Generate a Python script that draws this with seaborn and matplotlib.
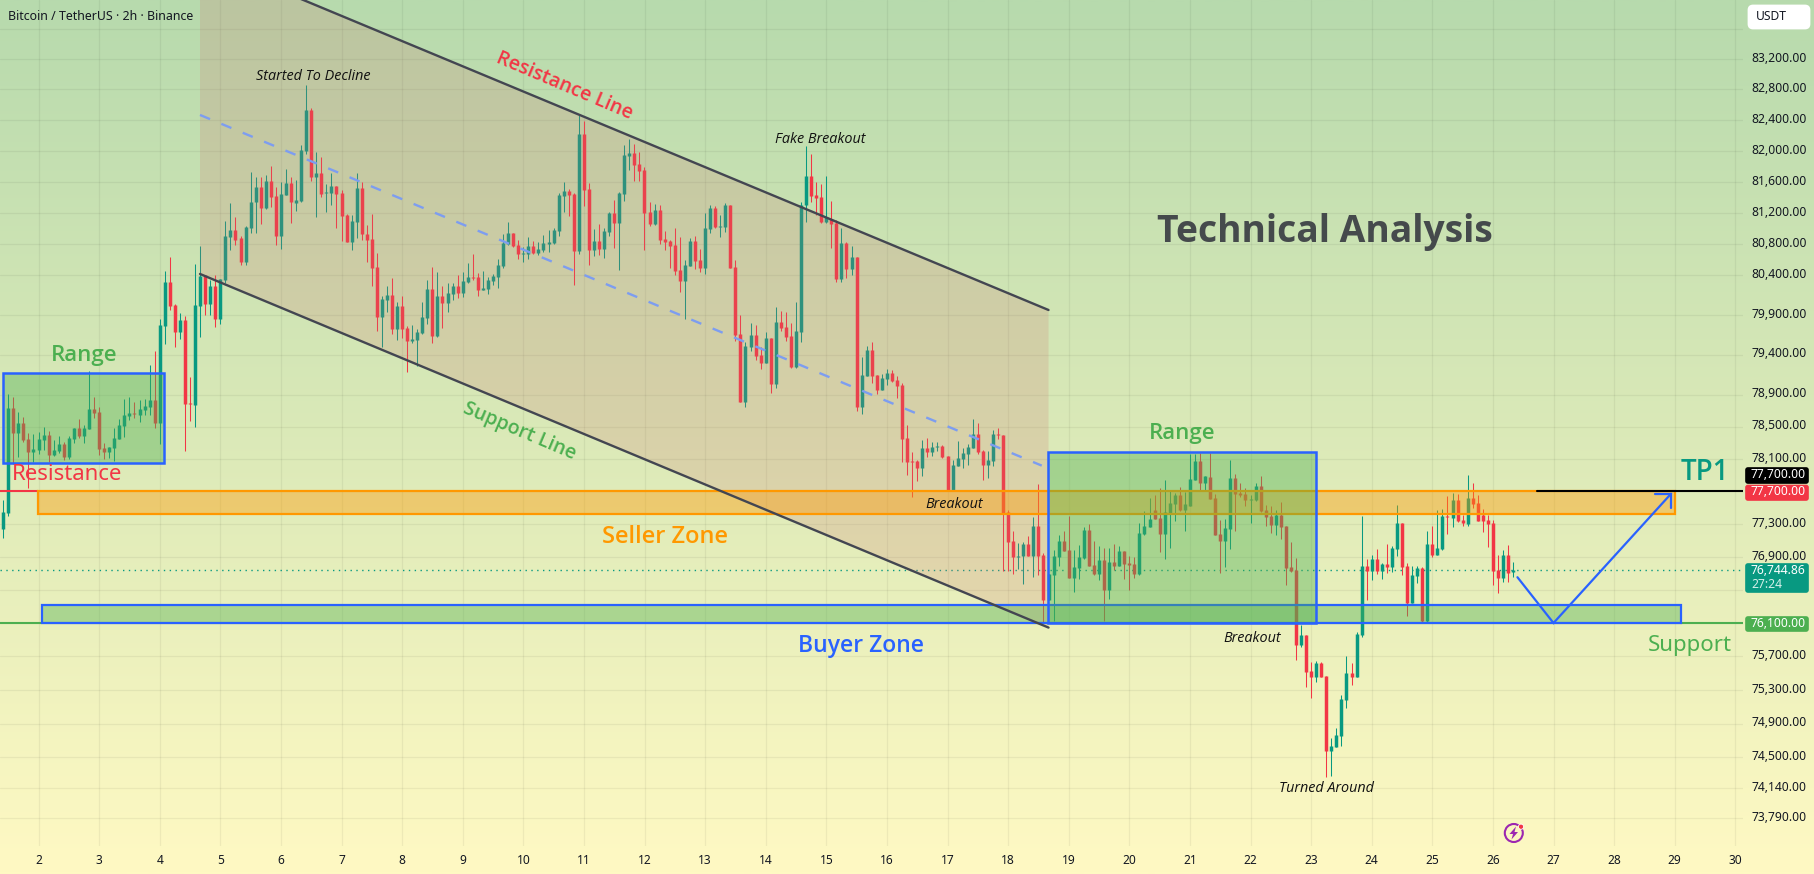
import numpy as np
import pandas as pd
import matplotlib
matplotlib.use("Agg")
import matplotlib.pyplot as plt
import matplotlib.transforms as mtransforms
import seaborn as sns
from matplotlib.patches import Circle, FancyBboxPatch, Polygon, Rectangle

# BTC/USDT 2h candles, oldest first
opens = [
    77245,77433,78732,78425,78545,78347,78186,78211,78335,78397,
    78150,78199,78285,78125,78347,78484,78384,78471,78720,78682,
    78236,78186,78236,78347,78508,78633,78670,78645,78707,78745,
    78832,78545,79760,80316,80025,79685,79836,78795,78770,80012,
    80405,80038,80266,79849,80342,80890,80980,80878,80571,81006,
    81339,81532,81262,81609,81416,80903,81429,81583,81326,81356,
    82002,82532,81662,81714,81456,81456,81547,81456,81173,80826,
    81083,81521,80929,80865,80508,79874,80088,80151,79723,80012,
    79735,79571,79584,79672,79861,80228,79634,80139,80050,80164,
    80266,80177,80317,80381,80381,80215,80228,80330,80381,80521,
    80801,80942,80788,80673,80673,80775,80686,80724,80801,80814,
    80968,81417,81482,81443,80711,82220,81508,80724,80839,80737,
    80955,81199,81070,81443,81933,81972,81830,81753,81211,81058,
    81237,80865,80839,80788,80470,80330,80521,80839,80597,80495,
    80994,81263,81019,81019,81301,80508,79660,78807,79496,79647,
    79395,79295,79609,79032,79811,79748,79634,79245,79685,81301,
    81675,81430,81404,81083,81122,81070,80355,80814,80482,80635,
    78745,79133,79458,79145,78957,79095,79170,79082,79020,78360,
    78076,78076,77990,78236,78187,78249,78261,78137,77706,78014,
    78100,78162,78236,78410,78199,78026,78076,78410,78398,77448,
    77094,76899,76911,77058,76911,77277,76923,76378,76681,76899,
    77094,76984,76644,76766,76887,77228,76802,76693,76863,76499,
    76839,76790,76972,76827,76815,76693,77179,77265,77473,77375,
    77179,77436,77546,77656,77473,77522,77841,78076,77804,77878,
    77620,77179,77094,77240,77866,77681,77669,77595,77595,77767,
    77473,77399,77289,77411,77277,76778,76742,75836,75956,75525,
    75454,75621,75466,74576,74623,74753,75180,75502,75454,75956,
    76790,76730,76875,76730,76815,76778,76996,77314,76790,76342,
    76669,76766,76125,77057,76923,76996,77399,77375,77595,77350,
    77301,77620,77558,77411,77350,77314,76742,76644,76923,76718,
]
highs = [
    77595,78907,78870,78682,78620,78421,78409,78434,78496,78446,
    78335,78384,78310,78384,78484,78595,78521,79195,78870,78745,
    78297,78248,78484,78595,78845,78870,78807,78832,78845,79270,
    79445,79849,80456,80635,80038,79924,79886,79120,80546,80775,
    80405,80342,80405,80354,81096,81326,81147,80903,81032,81727,
    81662,81662,81687,81803,81532,81596,81764,81662,81622,82076,
    82857,82558,81985,81920,81572,81714,81547,81495,81186,81173,
    81714,81598,81045,81186,80686,80139,80266,80368,80063,80139,
    79760,79773,79723,80063,80343,80508,80445,80266,80304,80304,
    80406,80445,80559,80673,80432,80457,80381,80419,80610,80929,
    81083,80942,80852,80762,80890,80839,80826,80916,80981,81006,
    81456,81598,81508,81456,82467,82389,81585,80994,81058,81006,
    81211,81365,81469,82076,82155,82089,81985,81791,81339,81314,
    81301,80968,80852,81006,80890,80597,80878,80903,80737,81199,
    81301,81288,81173,81326,81301,80597,79899,79559,79798,79773,
    79496,79685,79609,80000,79950,79937,79798,80063,81339,82063,
    81960,81598,81572,81675,81352,81109,81006,80826,80775,80635,
    79370,79508,79559,79145,79158,79220,79208,79133,79045,78522,
    78187,78088,78335,78360,78311,78311,78273,78137,78088,78323,
    78236,78286,78596,78547,78211,78199,78460,78485,78398,77473,
    77216,77070,77082,77155,77387,77792,76948,76693,76984,77167,
    77216,77399,76984,77045,77265,77301,77094,77033,77009,77009,
    77057,77033,76972,76911,76899,77314,77461,77620,77656,77743,
    77841,77706,77681,77755,77693,78162,78162,78174,77891,78174,
    77669,77350,77362,78088,77916,77804,77743,77656,77804,77891,
    77534,77522,77473,77570,77277,77082,76887,76077,75956,75633,
    75645,75633,75466,74730,74848,75240,75705,75621,75992,77399,
    76875,76923,76996,76827,77057,77033,77534,77314,76827,76790,
    76790,76778,77216,77277,77473,77485,77644,77681,77669,77411,
    77903,77804,77656,77485,77411,77350,76923,76984,77045,76839,
]
lows = [
    77135,77400,78040,78129,78314,77748,78068,78162,78211,78068,
    78137,78170,78088,78100,78297,78359,78297,78471,78608,78150,
    78100,78112,78076,78347,78372,78583,78608,78558,78645,78645,
    78484,78285,79533,79962,79496,79596,78199,78570,78496,79622,
    79899,79899,79748,79786,80304,80724,80788,80533,80533,80942,
    80942,81057,81250,81275,80788,80737,81429,81070,81224,81343,
    81960,81611,81147,81404,81211,81301,81006,80839,80826,80724,
    80878,80852,80571,80266,79697,79496,79937,79660,79584,79609,
    79183,79546,79258,79660,79786,79546,79622,79735,79937,80088,
    80114,80126,80304,80343,80139,80215,80164,80279,80241,80495,
    80788,80762,80610,80571,80610,80673,80660,80699,80699,80801,
    80903,81211,81160,80279,80673,81288,80533,80648,80660,80622,
    80903,80750,80470,81352,81753,81611,81611,80724,81032,81045,
    80801,80724,80495,80406,80190,79849,80521,80482,80445,80419,
    80942,81006,80890,80955,80495,79571,78807,78745,79445,79333,
    79220,79295,78920,78982,79697,79571,79233,79233,79559,81083,
    81339,81173,81070,81070,80750,80317,80317,80368,80406,78695,
    78658,79133,79045,78907,78957,79020,79057,78857,78063,77903,
    77632,77829,77891,78125,78137,78199,78113,77706,77706,78014,
    77990,78026,78236,78162,77841,77866,78014,78348,76730,76730,
    76694,76754,76572,76911,76657,76681,76113,76378,76125,76790,
    76972,76644,76475,76632,76875,76790,76681,76620,76125,76390,
    76742,76790,76632,76499,76644,76681,77167,77265,77362,76960,
    76875,77009,77338,77461,77216,77522,77841,77706,77706,77607,
    77167,76705,76778,76996,77216,77632,77522,77314,77583,77448,
    77277,77191,77167,77118,76560,76718,75657,75812,75335,75204,
    75394,75454,74270,74281,74623,74635,75085,75358,75454,75932,
    76378,76620,76693,76632,76705,76718,76911,76681,76185,76342,
    76584,76101,76113,76899,76923,76984,77179,77265,77326,77277,
    77277,77497,77338,77204,77021,76560,76463,76596,76596,76657,
]
closes = [
    77449,78732,78425,78545,78335,78186,78223,78347,78397,78150,
    78211,78285,78125,78359,78484,78384,78484,78720,78670,78223,
    78186,78248,78359,78521,78645,78670,78657,78720,78757,78832,
    78545,79773,80316,80012,79685,79836,78782,78786,80025,80392,
    80038,80266,79849,80354,80903,80980,80852,80571,81019,81339,
    81532,81262,81609,81403,80903,81442,81583,81339,81365,82011,
    82532,81667,81714,81443,81469,81547,81443,81160,80826,81096,
    81521,80929,80852,80495,79874,80100,80151,79723,80012,79723,
    79571,79596,79685,79874,80228,79634,80139,80050,80177,80266,
    80177,80330,80381,80368,80215,80241,80343,80394,80533,80814,
    80942,80775,80673,80686,80775,80686,80737,80814,80826,80981,
    81430,81482,81430,80711,82220,81495,80724,80839,80737,80968,
    81199,81070,81456,81946,81972,81817,81740,81199,81058,81237,
    80852,80826,80775,80457,80330,80533,80839,80584,80495,81006,
    81263,81019,81032,81301,80495,79647,78807,79508,79647,79383,
    79295,79609,79032,79811,79735,79622,79245,79697,81301,81675,
    81417,81391,81083,81147,81058,80355,80814,80482,80635,78745,
    79145,79458,79133,78957,79107,79170,79070,79007,78347,78063,
    78063,77990,78236,78187,78249,78261,78125,77706,78026,78113,
    78174,78249,78410,78187,78026,78088,78410,78398,77436,77082,
    76899,76911,77058,76911,77277,76911,76378,76693,76911,77094,
    76972,76644,76778,76899,77228,76790,76693,76863,76499,76839,
    76790,76972,76815,76802,76693,77191,77277,77362,77362,77179,
    77448,77558,77656,77473,77546,77854,78076,77804,77891,77607,
    77167,77094,77253,77866,77669,77656,77595,77607,77767,77461,
    77387,77289,77411,77265,76766,76730,75836,75956,75513,75454,
    75621,75454,74576,74635,74765,75192,75502,75454,75968,76790,
    76730,76875,76730,76815,76778,77009,77314,76778,76342,76681,
    76766,76125,77057,76923,77009,77399,77387,77595,77338,77314,
    77620,77546,77338,77338,77301,76730,76644,76923,76705,76744.86,
]

first_candle_day = 1 + 5 / 12      # the series opens at 10:00 on the 1st
candle_step_days = 1 / 12

day_ticks = list(range(2, 31))
price_ticks = [83200, 82800, 82400, 82000, 81600, 81200, 80800, 80400, 79900, 79400,
               78900, 78500, 78100, 77300, 76900, 75700, 75300, 74900, 74500, 74140, 73790]
unlabelled_grid_prices = [83600, 77700, 76500, 76100]

last_price = closes[-1]
target_price = 77700
support_price = 76100

# Chart drawings as (day, price) anchors
channel_start_day, channel_end_day = 4.665, 18.667
resistance_prices = [84553, 79962]
support_prices = [80419, 76045]
median_days = [4.665, 18.555]
median_prices = [82467, 78018]
range_boxes = [(1.406, 4.071, 78055, 79170), (18.653, 23.08, 76100, 78183)]
seller_zone = (1.987, 29.005, 77424, 77700)
buyer_zone = (2.053, 29.1, 76100, 76318)
path_days = [26.405, 27.0, 28.94]
path_prices = [76653, 76100, 77672]
arrow_days = [28.68, 28.94, 28.94]
arrow_prices = [77672, 77672, 77497]

UP, DOWN = "#089981", "#f23645"
BLUE, GREEN, ORANGE, DARK = "#2962ff", "#4caf50", "#ff9800", "#434651"
INK = "#131722"
W, H = 1815, 874

sns.set_theme(style="white")
plt.rcParams["font.family"] = ["Noto Sans", "DejaVu Sans"]

fig = plt.figure(figsize=(W / 100, H / 100), dpi=100)

# Vertical wash behind everything
bg = fig.add_axes([0, 0, 1, 1], zorder=0)
top_rgb, bottom_rgb = np.array([183, 218, 173]) / 255, np.array([255, 249, 195]) / 255
ramp = np.linspace(0, 1, 256)[:, None, None]
bg.imshow(top_rgb * (1 - ramp) + bottom_rgb * ramp, aspect="auto", interpolation="bilinear")
bg.axis("off")

ax = fig.add_axes([0, (H - 846) / H, 1743 / W, 846 / H], zorder=1)
ax.patch.set_alpha(0)
ax.set_yscale("log")

candles = pd.DataFrame({"open": opens, "high": highs, "low": lows, "close": closes})
candles["day"] = first_candle_day + candle_step_days * np.arange(len(candles))
candles["candle"] = np.arange(len(candles))
candles["side"] = np.where(candles["close"] >= candles["open"], "up", "down")
side_colors = {"up": UP, "down": DOWN}

wicks = candles.melt(id_vars=["candle", "day", "side"], value_vars=["high", "low"], value_name="price")
bodies = candles.melt(id_vars=["candle", "day", "side"], value_vars=["open", "close"], value_name="price")

for table, width, layer in ((wicks, 0.75, 3), (bodies, 2.5, 3.1)):
    sns.lineplot(data=table, x="day", y="price", units="candle", hue="side", palette=side_colors,
                 estimator=None, sort=False, legend=False, linewidth=width, ax=ax,
                 solid_capstyle="butt", zorder=layer)

# Descending channel: tinted body, rails and dashed median
ax.fill([channel_start_day, channel_end_day, channel_end_day, channel_start_day],
        [resistance_prices[0], resistance_prices[1], support_prices[1], support_prices[0]],
        color="#cd736e", alpha=0.2, lw=0, zorder=4)
sns.lineplot(x=[channel_start_day, channel_end_day], y=resistance_prices, color=DARK, linewidth=1.7,
             ax=ax, zorder=7, estimator=None, sort=False)
sns.lineplot(x=[channel_start_day, channel_end_day], y=support_prices, color=DARK, linewidth=1.7,
             ax=ax, zorder=7, estimator=None, sort=False)
ax.plot(median_days, median_prices, color="#7d9df0", lw=1.7, dashes=(4.6, 5.2), zorder=6)

# Horizontal levels
x_left, x_right = 2 - 38.5 / 60.6, 2 + 1704.5 / 60.6
ax.plot([x_left, seller_zone[0]], [target_price] * 2, color=DOWN, lw=1.5, zorder=5)
ax.plot([26.73, x_right], [target_price] * 2, color="black", lw=1.5, zorder=9)
ax.plot([x_left, x_right], [support_price] * 2, color=GREEN, lw=1.5, zorder=5)
ax.plot([x_left, x_right], [last_price] * 2, color=UP, lw=1, ls=(0, (1, 3.2)), zorder=2.5)


def zone(bounds, edge, face, layer, width=1.6):
    d0, d1, p0, p1 = bounds
    ax.add_patch(Rectangle((d0, p0), d1 - d0, p1 - p0, facecolor=matplotlib.colors.to_rgba(face, 0.4),
                           edgecolor=edge, lw=width, zorder=layer))


zone(seller_zone, ORANGE, ORANGE, 5.1)
zone(buyer_zone, BLUE, GREEN, 5.2)
for box in range_boxes:
    zone(box, BLUE, GREEN, 6, width=1.8)

# Projected path to the target
ax.plot(path_days, path_prices, color=BLUE, lw=1.6, zorder=10, solid_joinstyle="miter")
ax.plot(arrow_days, arrow_prices, color=BLUE, lw=1.6, zorder=10, solid_joinstyle="miter")

ax.set_xlim(x_left, x_right)
ax.set_ylim(83200 * np.exp(-787 / 6323), 83200 * np.exp(59 / 6323))
ax.set_xlabel("")
ax.set_ylabel("")
ax.set_xticks(day_ticks, [str(d) for d in day_ticks])
ax.yaxis.tick_right()
grid_prices = price_ticks + unlabelled_grid_prices
ax.set_yticks(grid_prices, [f"{p:,.2f}" for p in price_ticks] + [""] * len(unlabelled_grid_prices))
ax.yaxis.set_minor_locator(matplotlib.ticker.NullLocator())
ax.yaxis.set_minor_formatter(matplotlib.ticker.NullFormatter())
ax.tick_params(axis="x", length=0, pad=5.5, labelsize=8.6, labelcolor=INK)
ax.tick_params(axis="y", length=0, pad=6.2, labelsize=8.7, labelcolor=INK)
# Price labels sit a touch above their grid lines
label_lift = mtransforms.ScaledTranslation(0, 2.2 / 100, fig.dpi_scale_trans)
for label in ax.get_yticklabels():
    label.set_transform(label.get_transform() + label_lift)
ax.set_axisbelow(True)
ax.grid(True, color="black", alpha=0.055, lw=0.9)
for spine in ax.spines.values():
    spine.set_visible(False)

# Overlay in screen units for captions, price tags and badges
ui = fig.add_axes([0, 0, 1, 1], zorder=2)
ui.set_xlim(0, W)
ui.set_ylim(H, 0)
ui.axis("off")


def caption(x, y, text, color=INK, size=9, **kw):
    kw.setdefault("ha", "center")
    ui.text(x, y, text, color=color, fontsize=size, va="center", rotation_mode="anchor", **kw)


caption(8, 16.5, "Bitcoin / TetherUS · 2h · Binance", size=8.9, ha="left")
NOTE = dict(color="#111111", size=10.4, style="italic", family="Open Sans")
caption(313, 77, "Started To Decline", **NOTE)
caption(820.7, 139.5, "Fake Breakout", **NOTE)
caption(954.7, 504, "Breakout", **NOTE)
caption(1252.7, 638, "Breakout", **NOTE)
caption(1326, 788, "Turned Around", **NOTE)
caption(1325, 232, "Technical Analysis", color="#454a4c", size=26.8, weight="bold", family="Open Sans")
caption(564, 86, "Resistance Line", color=DOWN, size=14, weight="semibold", rotation=-23, family="Open Sans")
caption(519, 431.5, "Support Line", color=GREEN, size=14, weight="semibold", rotation=-23, family="Open Sans")
caption(84, 356, "Range", color=GREEN, size=16, weight="semibold", family="Open Sans")
caption(1181.7, 433.5, "Range", color=GREEN, size=16, weight="semibold", family="Open Sans")
caption(67, 474, "Resistance", color=DOWN, size=16)
caption(665.5, 537, "Seller Zone", color=ORANGE, size=17, weight="semibold", family="Open Sans")
caption(861, 646, "Buyer Zone", color=BLUE, size=16.5, weight="semibold", family="Open Sans")
caption(1690, 645, "Support", color=GREEN, size=16)
caption(1705, 472, "TP1", color=UP, size=20, weight="semibold", family="Open Sans")


def tag(y0, y1, color):
    ui.add_patch(FancyBboxPatch((1746, y0 + 1), 62, y1 - y0 - 2, boxstyle="round,pad=0,rounding_size=2",
                                facecolor=color, edgecolor=color, lw=1.2))


ui.add_patch(FancyBboxPatch((1749, 6), 60, 22, boxstyle="round,pad=0,rounding_size=4",
                            facecolor="white", edgecolor="white", lw=2))
caption(1756, 16.5, "USDT", size=8.7, ha="left")
tag(467, 484, "black")
caption(1751, 474.5, f"{target_price:,.2f}", color="white", size=8.7, ha="left")
tag(484.5, 501, DOWN)
caption(1751, 491.5, f"{target_price:,.2f}", color="white", size=8.7, ha="left")
tag(563, 593, UP)
caption(1751, 570, f"{last_price:,.2f}", color="white", size=8.7, ha="left")
caption(1751, 584.5, "27:24", color="#d5f0ea", size=8.7, ha="left")
tag(616, 632, GREEN)
caption(1751, 623.5, f"{support_price:,.2f}", color="white", size=8.7, ha="left")

# Lightning badge below the last candles
ui.add_patch(Circle((1513.8, 833), 9, facecolor="none", edgecolor="#9c27b0", lw=1.5))
ui.add_patch(Polygon([(1516, 826.5), (1509.5, 834), (1513, 834), (1511.5, 839.5), (1518, 832), (1514.5, 832)],
                     closed=True, facecolor="#9c27b0", edgecolor="none"))
ui.add_patch(Circle((1521, 826.7), 2.6, facecolor=DOWN, edgecolor="white", lw=0.6))

fig.savefig("out.png", dpi=100)
